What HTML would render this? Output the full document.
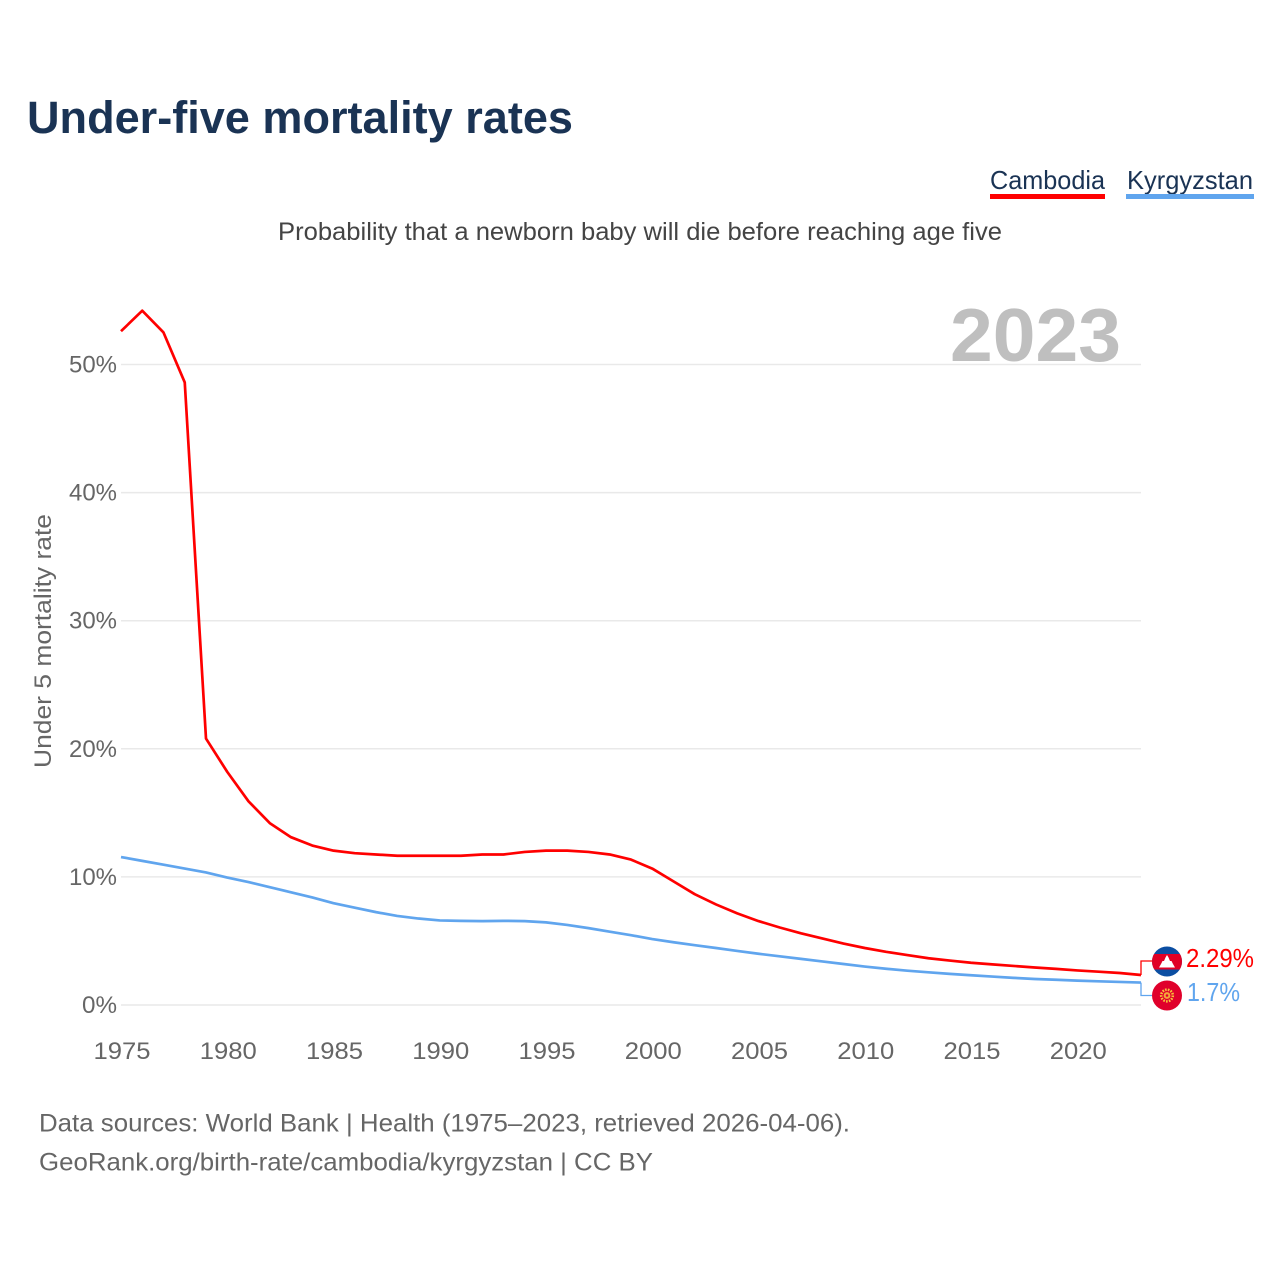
<!DOCTYPE html>
<html lang="en">
<head>
<meta charset="utf-8">
<title>Under-five mortality rates</title>
<style>
html,body{margin:0;padding:0;background:#fff;}
svg{display:block;}
text{font-family:"Liberation Sans",sans-serif;}
</style>
</head>
<body>
<svg id="chart" xmlns="http://www.w3.org/2000/svg" width="1280" height="1280" viewBox="0 0 1280 1280">
  <rect x="0" y="0" width="1280" height="1280" fill="#ffffff"/>
  <text x="27" y="133" font-size="45" font-weight="700" fill="#1a3354" textLength="546" lengthAdjust="spacingAndGlyphs">Under-five mortality rates</text>
  <g>
    <g>
      <text x="990" y="189" font-size="26" fill="#1a3354" textLength="115" lengthAdjust="spacingAndGlyphs">Cambodia</text>
      <rect x="990" y="194" width="115" height="5" fill="#ff0000"/>
    </g>
    <g>
      <text x="1127" y="189" font-size="26" fill="#1a3354" textLength="126" lengthAdjust="spacingAndGlyphs">Kyrgyzstan</text>
      <rect x="1126" y="194" width="128" height="5" fill="#60a5ee"/>
    </g>
  </g>
  <text x="278" y="240" font-size="25" fill="#444444" textLength="724" lengthAdjust="spacingAndGlyphs">Probability that a newborn baby will die before reaching age five</text>
  <text x="950" y="361" font-size="75" font-weight="700" fill="#bfbfbf" textLength="171" lengthAdjust="spacingAndGlyphs">2023</text>
  <text transform="translate(51 768) rotate(-90)" x="0" y="0" font-size="24" fill="#666666" textLength="254" lengthAdjust="spacingAndGlyphs">Under 5 mortality rate</text>
  <g id="grid"></g>
  <g id="yticks"></g>
  <g id="xticks"></g>
  <g id="series"></g>
  <defs>
    <clipPath id="clip-kh"><circle cx="1167" cy="961.5" r="15"/></clipPath>
    <clipPath id="clip-kg"><circle cx="1167" cy="995.5" r="15"/></clipPath>
  </defs>
  <g clip-path="url(#clip-kh)">
    <rect x="1152" y="946" width="30" height="31" fill="#0b4ea2"/>
    <rect x="1152" y="954" width="30" height="15.5" fill="#e00025"/>
    <polygon points="1159,967.5 1161,964 1162.5,961 1164,961 1165.5,957.5 1167,955 1168.5,957.5 1170,961 1171.5,961 1173,964 1175,967.5" fill="#ffffff"/>
  </g>
  <g clip-path="url(#clip-kg)">
    <rect x="1152" y="980" width="30" height="31" fill="#e0002b"/>
    <circle cx="1167" cy="995.5" r="5.8" fill="none" stroke="#f7c23a" stroke-width="2.6" stroke-dasharray="1.6 1.2"/>
    <circle cx="1167" cy="995.5" r="3.4" fill="#f3a83a"/>
    <circle cx="1167" cy="995.5" r="1.3" fill="#e0002b"/>
  </g>
  <text x="39" y="1131.5" font-size="25" fill="#666666" textLength="811" lengthAdjust="spacingAndGlyphs">Data sources: World Bank | Health (1975–2023, retrieved 2026-04-06).</text>
  <text x="39" y="1170.5" font-size="25" fill="#666666" textLength="614" lengthAdjust="spacingAndGlyphs">GeoRank.org/birth-rate/cambodia/kyrgyzstan | CC BY</text>
</svg>
<script>
const years = [1975,1976,1977,1978,1979,1980,1981,1982,1983,1984,1985,1986,1987,1988,1989,1990,1991,1992,1993,1994,1995,1996,1997,1998,1999,2000,2001,2002,2003,2004,2005,2006,2007,2008,2009,2010,2011,2012,2013,2014,2015,2016,2017,2018,2019,2020,2021,2022,2023];
const cambodia = [52.6,54.2,52.5,48.6,20.8,18.2,15.9,14.2,13.1,12.45,12.05,11.85,11.75,11.65,11.65,11.65,11.65,11.75,11.75,11.95,12.05,12.05,11.95,11.75,11.35,10.65,9.65,8.65,7.85,7.15,6.55,6.05,5.6,5.2,4.8,4.45,4.15,3.9,3.65,3.47,3.3,3.17,3.05,2.93,2.82,2.7,2.6,2.5,2.34];
const kyrgyzstan = [11.55,11.25,10.95,10.65,10.35,9.95,9.6,9.2,8.8,8.4,7.95,7.6,7.25,6.95,6.75,6.6,6.57,6.55,6.57,6.55,6.45,6.25,6.0,5.72,5.45,5.15,4.9,4.67,4.45,4.22,4.0,3.8,3.6,3.4,3.2,3.0,2.83,2.68,2.55,2.43,2.32,2.22,2.12,2.03,1.97,1.9,1.85,1.8,1.75];
const yTickValues = [0,10,20,30,40,50];
const yTickLabels = ["0%","10%","20%","30%","40%","50%"];
const xTickValues = [1975,1980,1985,1990,1995,2000,2005,2010,2015,2020];
const xTickLabels = ["1975","1980","1985","1990","1995","2000","2005","2010","2015","2020"];
const cambodiaLabel = "2.29%";
const kyrgyzstanLabel = "1.7%";

const NS = "http://www.w3.org/2000/svg";
const xScale = function (year) { return 121 + (year - 1975) * (1141 - 121) / (2023 - 1975); };
const yScale = function (value) { return 1005 - value * (1005 - 364.5) / 50; };

function make(tag, parent, attrs, content) {
  const el = document.createElementNS(NS, tag);
  Object.keys(attrs).forEach(function (k) { el.setAttribute(k, attrs[k]); });
  if (content !== undefined) el.textContent = content;
  parent.appendChild(el);
  return el;
}

const grid = document.getElementById("grid");
const yticks = document.getElementById("yticks");
const xticks = document.getElementById("xticks");
const seriesGroup = document.getElementById("series");

yTickValues.forEach(function (v, i) {
  const line = make("line", grid, {x1: 121, x2: 1141, y1: yScale(v), y2: yScale(v), stroke: "#e9e9e9", "stroke-width": 1.5});
  
  
  const w = yTickLabels[i].length === 2 ? 35 : 48;
  const label = make("text", yticks, {x: 117 - w, y: yScale(v) + 8, "font-size": 24.5, fill: "#666666", textLength: w, lengthAdjust: "spacingAndGlyphs"}, yTickLabels[i]);
  
  
});

xTickValues.forEach(function (v, i) {
  const label = make("text", xticks, {x: xScale(v) - 27.5, y: 1059, "font-size": 24.5, fill: "#666666", textLength: 57, lengthAdjust: "spacingAndGlyphs"}, xTickLabels[i]);
  
  
});

function pathFor(values) {
  return values.map(function (v, i) {
    return (i ? "L" : "M") + xScale(years[i]).toFixed(2) + " " + yScale(v).toFixed(2);
  }).join(" ");
}

const kgLine = make("path", seriesGroup, {d: pathFor(kyrgyzstan), fill: "none", stroke: "#60a5ee", "stroke-width": 2.7, "stroke-linejoin": "round"});



const khLine = make("path", seriesGroup, {d: pathFor(cambodia), fill: "none", stroke: "#ff0000", "stroke-width": 2.7, "stroke-linejoin": "round"});



const lastIndex = years.length - 1;
const endX = xScale(years[lastIndex]);

const khConn = make("path", seriesGroup, {d: "M" + endX + " " + yScale(cambodia[lastIndex]) + " V961 H1152", fill: "none", stroke: "#ff0000", "stroke-width": 1.3});



const kgConn = make("path", seriesGroup, {d: "M" + endX + " " + yScale(kyrgyzstan[lastIndex]) + " V995.5 H1152", fill: "none", stroke: "#60a5ee", "stroke-width": 1.3});



const khValue = make("text", seriesGroup, {x: 1186, y: 967, "font-size": 25.5, fill: "#ff0000", textLength: 68, lengthAdjust: "spacingAndGlyphs"}, cambodiaLabel);



const kgValue = make("text", seriesGroup, {x: 1187, y: 1001, "font-size": 25.5, fill: "#60a5ee", textLength: 53, lengthAdjust: "spacingAndGlyphs"}, kyrgyzstanLabel);


</script>
</body>
</html>
